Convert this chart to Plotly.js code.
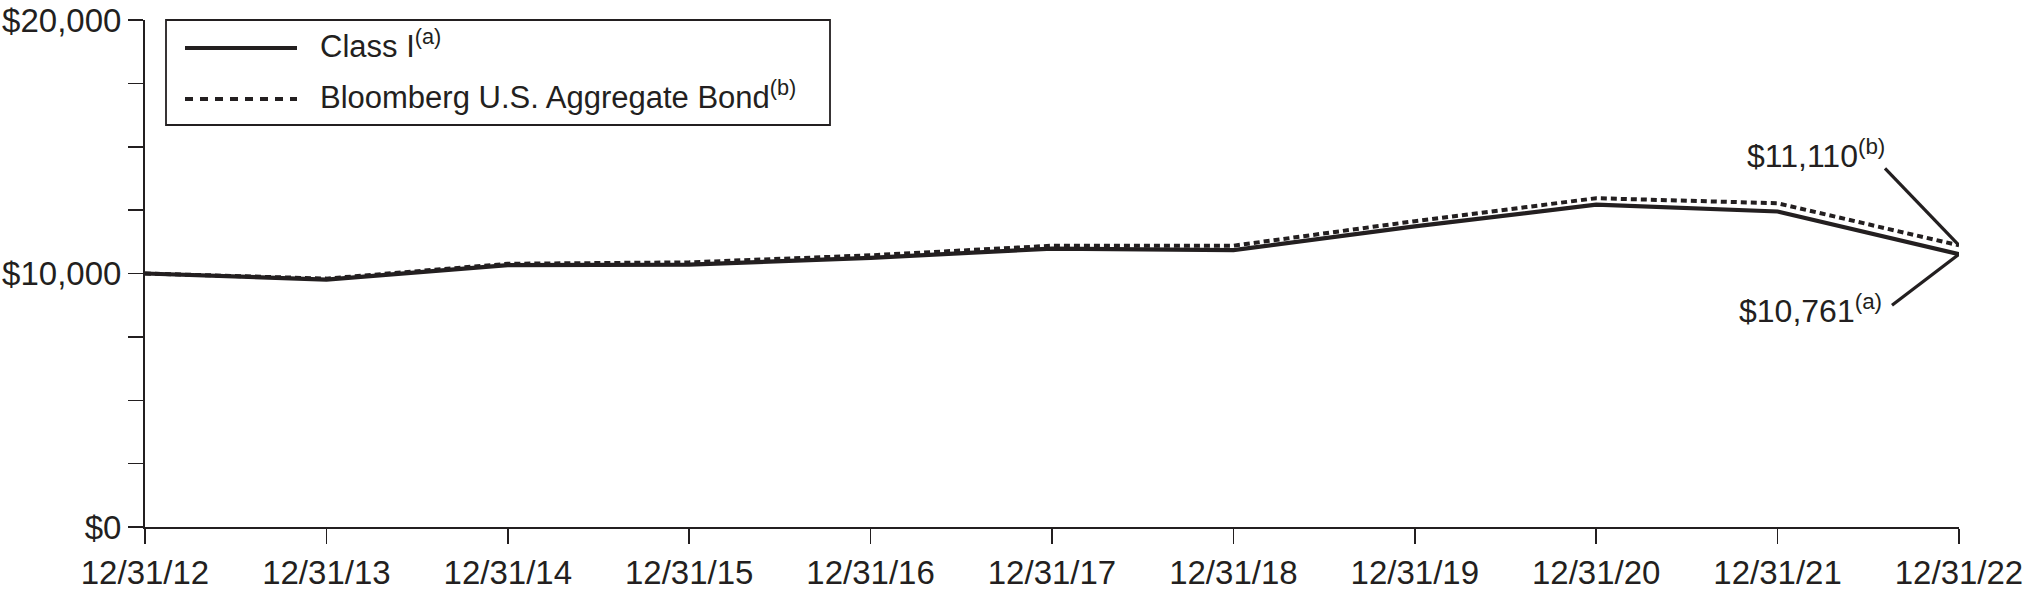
<!DOCTYPE html>
<html><head><meta charset="utf-8">
<script src="https://cdn.plot.ly/plotly-3.0.1.min.js"></script>
<style>html,body{margin:0;padding:0;background:#fff}#chart{width:2025px;height:590px}</style>
</head><body><div id="chart"></div>
<script>
// ---- data ----
const dates = ["12/31/12","12/31/13","12/31/14","12/31/15","12/31/16","12/31/17","12/31/18","12/31/19","12/31/20","12/31/21","12/31/22"];
const classI = [10000, 9760, 10330, 10350, 10620, 10980, 10920, 11860, 12716, 12446, 10761];
const aggBond = [10000, 9798, 10383, 10440, 10717, 11096, 11097, 12065, 12971, 12771, 11110];
const seriesNames = ["Class I", "Bloomberg U.S. Aggregate Bond"];
const seriesNotes = ["(a)", "(b)"];
const yTickVals = [0, 2500, 5000, 7500, 10000, 12500, 15000, 17500, 20000];
const yTickText = ["$0", "", "", "", "$10,000", "", "", "", "$20,000"];

// ---- layout helpers ----
const W = 2025, H = 590;
const M = {l: 145, r: 66, t: 20, b: 63};
const PW = W - M.l - M.r, PH = H - M.t - M.b;
const px = x => (x - M.l) / PW;
const py = y => (H - M.b - y) / PH;
const INK = "#231f20";
const FONT = "Liberation Sans, Arial, Helvetica, sans-serif";
const idx = dates.map((d, i) => i);
const last = dates.length - 1;
const money = v => "$" + v.toLocaleString("en-US");

const traces = [
  {x: idx, y: aggBond, mode: "lines", name: seriesNames[1],
   line: {color: INK, width: 4, dash: "6px,4px"}, cliponaxis: false, hoverinfo: "skip"},
  {x: idx, y: classI, mode: "lines", name: seriesNames[0],
   line: {color: INK, width: 4.2}, cliponaxis: false, hoverinfo: "skip"}
];

const shapes = [
  // legend box
  {type: "rect", xref: "paper", yref: "paper", x0: px(166), x1: px(830), y0: py(125), y1: py(20),
   line: {color: INK, width: 1.8}, fillcolor: "rgba(0,0,0,0)"},
  {type: "line", xref: "paper", yref: "paper", x0: px(185), x1: px(297), y0: py(48), y1: py(48),
   line: {color: INK, width: 4.2}},
  {type: "line", xref: "paper", yref: "paper", x0: px(185), x1: px(297), y0: py(99), y1: py(99),
   line: {color: INK, width: 4, dash: "8px,7px"}},
  // leader lines to end values
  {type: "line", xref: "x", yref: "y", xsizemode: "pixel", ysizemode: "pixel",
   xanchor: last, yanchor: aggBond[last], x0: -74, y0: 77, x1: 0, y1: 0,
   line: {color: INK, width: 3.2}},
  {type: "line", xref: "x", yref: "y", xsizemode: "pixel", ysizemode: "pixel",
   xanchor: last, yanchor: classI[last], x0: -67, y0: -51, x1: 0, y1: 0,
   line: {color: INK, width: 3.2}}
];

const annotations = [
  {xref: "paper", yref: "paper", x: px(318), y: py(44), xanchor: "left", yanchor: "middle",
   text: seriesNames[0] + "<sup>" + seriesNotes[0] + "</sup>", showarrow: false,
   font: {family: FONT, size: 31, color: INK}},
  {xref: "paper", yref: "paper", x: px(318), y: py(95), xanchor: "left", yanchor: "middle",
   text: seriesNames[1] + "<sup>" + seriesNotes[1] + "</sup>", showarrow: false,
   font: {family: FONT, size: 31, color: INK}},
  {xref: "x", yref: "y", x: last, y: aggBond[last], xanchor: "right", yanchor: "middle",
   xshift: -72, yshift: 91, text: money(aggBond[last]) + "<sup>" + seriesNotes[1] + "</sup>",
   showarrow: false, font: {family: FONT, size: 32, color: INK}},
  {xref: "x", yref: "y", x: last, y: classI[last], xanchor: "right", yanchor: "middle",
   xshift: -75, yshift: -55, text: money(classI[last]) + "<sup>" + seriesNotes[0] + "</sup>",
   showarrow: false, font: {family: FONT, size: 32, color: INK}}
];

const layout = {
  width: W, height: H,
  margin: M,
  paper_bgcolor: "#fff", plot_bgcolor: "#fff",
  showlegend: false,
  font: {family: FONT, color: INK},
  xaxis: {
    range: [0, last], tickvals: idx, ticktext: dates, showgrid: false, zeroline: false,
    showline: true, linecolor: INK, linewidth: 2, ticks: "outside", ticklen: 15,
    tickwidth: 1.5, tickcolor: INK, tickfont: {family: FONT, size: 33, color: INK}
  },
  yaxis: {
    range: [0, 20000], tickvals: yTickVals, ticktext: yTickText, showgrid: false, zeroline: false,
    showline: true, linecolor: INK, linewidth: 2, ticks: "outside", ticklen: 15,
    tickwidth: 1.5, tickcolor: INK, tickfont: {family: FONT, size: 33, color: INK}
  },
  shapes: shapes,
  annotations: annotations
};

Plotly.newPlot("chart", traces, layout, {staticPlot: true, displayModeBar: false});
</script>
</body></html>
